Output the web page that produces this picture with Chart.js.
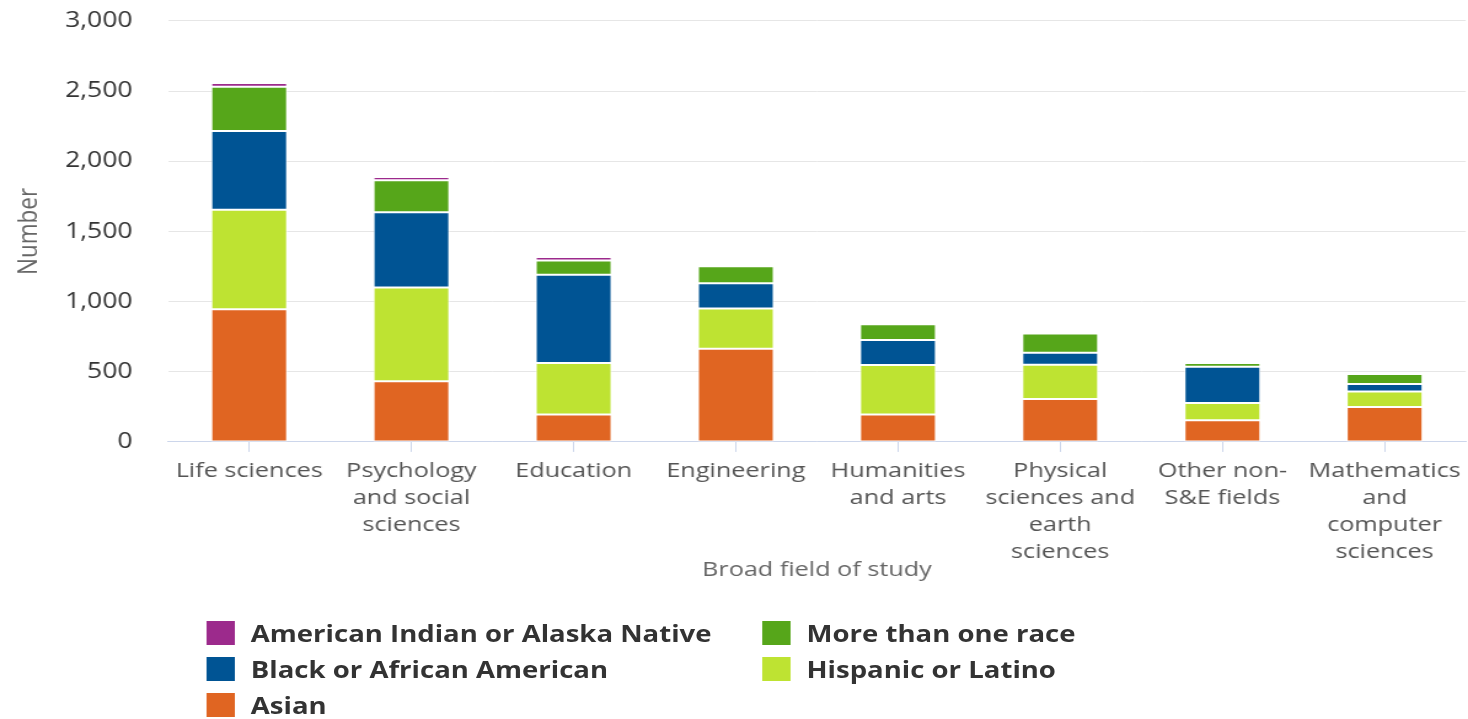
<!DOCTYPE html>
<html>
<head>
<meta charset="utf-8">
<script src="https://cdn.jsdelivr.net/npm/chart.js@4/dist/chart.umd.min.js"></script>
<style>
  html, body { margin: 0; padding: 0; background: #fff; overflow: hidden; }
  /* the reference is stretched sideways, so the whole page is drawn narrow and widened */
  #wrap { width: 1194px; transform: scaleX(1.2295); transform-origin: 0 0; }
  #chart { display: block; margin-top: -21px; }
  #legend {
    display: grid;
    grid-template-columns: 452px auto;
    padding: 17px 0 0 168px;
    font: bold 22.4px "Open Sans", sans-serif;
    color: #333;
  }
  .item { display: flex; align-items: center; height: 36px; }
  .box { width: 23px; height: 24px; margin-right: 13px; }
</style>
</head>
<body>
<div id="wrap">
  <canvas id="chart" width="1194" height="619"></canvas>
  <div id="legend"></div>
</div>
<script>
// ===== Data =====
const categories = [
  ['Life sciences'],
  ['Psychology', 'and social', 'sciences'],
  ['Education'],
  ['Engineering'],
  ['Humanities', 'and arts'],
  ['Physical', 'sciences and', 'earth', 'sciences'],
  ['Other non-', 'S&E fields'],
  ['Mathematics', 'and', 'computer', 'sciences'],
];

const asian      = [945, 433, 195, 664, 195, 306, 154, 249];
const hispanic   = [710, 668, 367, 287, 353, 244, 124, 110];
const black      = [560, 535, 630, 179, 179,  86, 257,  53];
const multiRace  = [315, 229, 100, 121, 112, 136,  27,  71];
const amIndian   = [ 27,  22,  25,   0,   0,   0,   0,   0];

const yTicks = [0, 500, 1000, 1500, 2000, 2500, 3000];

const FONT = '"Open Sans", sans-serif';

const datasets = [
  { label: 'Asian', data: asian, backgroundColor: '#e06522' },
  { label: 'Hispanic or Latino', data: hispanic, backgroundColor: '#bee332' },
  { label: 'Black or African American', data: black, backgroundColor: '#005494' },
  { label: 'More than one race', data: multiRace, backgroundColor: '#56a61a' },
  { label: 'American Indian or Alaska Native', data: amIndian, backgroundColor: '#9c2a8c' },
].map(ds => ({
  ...ds,
  borderColor: '#ffffff',
  borderWidth: 1,
  borderSkipped: false,
  categoryPercentage: 1,
  barPercentage: 0.47,
}));

const ctx = document.getElementById('chart').getContext('2d');
const chart = new Chart(ctx, {
  type: 'bar',
  data: { labels: categories, datasets },
  options: {
    responsive: false,
    animation: false,
    layout: { padding: { top: 0, right: 0, bottom: 16, left: 0 } },
    plugins: {
      legend: { display: false },
      tooltip: { enabled: false },
    },
    scales: {
      x: {
        stacked: true,
        grid: {
          offset: false,
          drawOnChartArea: false,
          drawTicks: true,
          tickLength: 10,
          tickColor: '#ccd6eb',
        },
        border: { color: '#ccd6eb', width: 1 },
        ticks: {
          color: '#555',
          padding: 6,
          maxRotation: 0,
          autoSkip: false,
          font: { family: FONT, size: 20.5, lineHeight: 1.317 },
        },
        title: {
          display: true,
          text: 'Broad field of study',
          color: '#666',
          font: { family: FONT, size: 20.5 },
          padding: { top: -14.5, bottom: 0 },
        },
      },
      y: {
        stacked: true,
        min: 0,
        max: 3000,
        afterBuildTicks: (axis) => { axis.ticks = yTicks.map(v => ({ value: v })); },
        grid: { color: '#e6e6e6', drawTicks: false },
        border: { display: false },
        ticks: {
          color: '#333',
          padding: 29,
          font: { family: FONT, size: 21.5 },
          callback: (v) => v.toLocaleString('en-US'),
        },
        title: {
          display: true,
          text: 'Number',
          color: '#666',
          font: { family: FONT, size: 22.5 },
          padding: { top: 10.5, bottom: -13.5 },
        },
      },
    },
  },
});

// ===== Legend (two columns, top of stack first) =====
const legendEl = document.getElementById('legend');
chart.data.datasets.slice().reverse().forEach(ds => {
  const item = document.createElement('div');
  item.className = 'item';
  const box = document.createElement('span');
  box.className = 'box';
  box.style.background = ds.backgroundColor;
  const txt = document.createElement('span');
  txt.textContent = ds.label;
  item.appendChild(box);
  item.appendChild(txt);
  legendEl.appendChild(item);
});
</script>
</body>
</html>
